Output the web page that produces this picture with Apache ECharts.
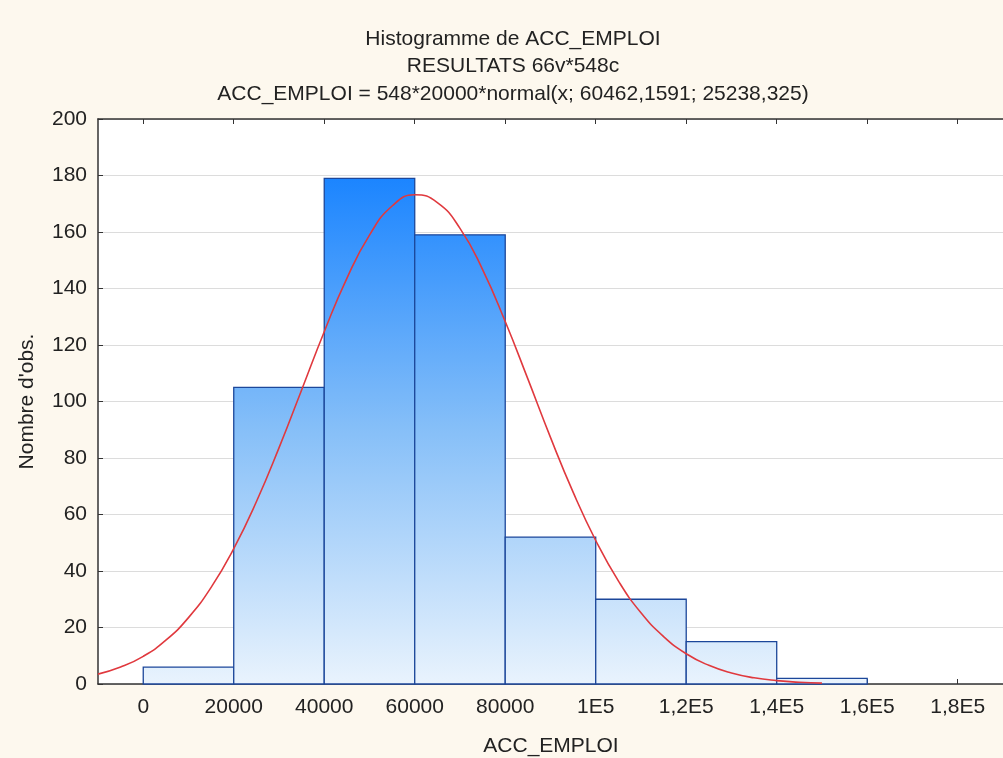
<!DOCTYPE html>
<html><head><meta charset="utf-8">
<script src="https://cdn.jsdelivr.net/npm/echarts@6/dist/echarts.min.js"></script>
<style>html,body{margin:0;padding:0;background:#fdf8ee;}#c{width:1003px;height:758px;}</style>
</head><body><div id="c"></div>
<script>
// Histogram bins: [start, end]
const binStarts = [0, 20000, 40000, 60000, 80000, 100000, 120000, 140000];
const binEnds   = [20000, 40000, 60000, 80000, 100000, 120000, 140000, 160000];
const binCounts = [6, 105, 179, 159, 52, 30, 15, 2];
// Fitted normal curve
const curveX = [-10000,-5000,0,5000,10000,15000,20000,25000,30000,35000,40000,45000,50000,55000,60000,65000,70000,75000,80000,85000,90000,95000,100000,105000,110000,115000,120000,125000,130000,135000,140000,145000,150000];
const curveY = [3.5,6.0,9.8,15.5,23.5,34.2,47.9,64.5,83.6,104.1,124.7,143.6,158.9,169.2,173.2,170.4,161.3,146.7,128.3,108.0,87.3,67.9,50.8,36.5,25.2,16.8,10.7,6.6,3.9,2.2,1.2,0.6,0.3];
const xTickValues = [0,20000,40000,60000,80000,100000,120000,140000,160000,180000];
const xTickLabels = ['0','20000','40000','60000','80000','1E5','1,2E5','1,4E5','1,6E5','1,8E5'];
const titleLines = ['Histogramme de ACC_EMPLOI','RESULTATS 66v*548c','ACC_EMPLOI = 548*20000*normal(x; 60462,1591; 25238,325)'];

const chart = echarts.init(document.getElementById('c'));
const font = 'Liberation Sans, Arial, sans-serif';
const lblMap = {};
xTickValues.forEach((v,i)=>lblMap[v]=xTickLabels[i]);
const grad = new echarts.graphic.LinearGradient(0, 175, 0, 684, [
  {offset:0, color:'#1a84ff'},
  {offset:0.5, color:'#86bff8'},
  {offset:1, color:'#e9f3fd'}
], true);
const axisLineStyle = {color:'#333', width:1.5};
chart.setOption({
  backgroundColor:'#fdf8ee',
  animation:false,
  graphic: titleLines.map((t,i)=>({
    type:'text', x:513, y:39+i*27.5,
    style:{text:t, textAlign:'center', textVerticalAlign:'middle', font:'21px '+font, fill:'#222'}
  })),
  grid:{left:98, top:119, width:914, height:565, outerBoundsMode:'none', containLabel:false, show:true, backgroundColor:'#fff', borderWidth:0},
  xAxis:[{
    type:'value', min:-10000, max:192000,
    axisLine:{show:true, onZero:false, lineStyle:axisLineStyle},
    axisTick:{show:true, inside:true, length:5, customValues:xTickValues, lineStyle:{color:'#333'}},
    axisLabel:{customValues:xTickValues, formatter:v=>lblMap[v]!==undefined?lblMap[v]:'', fontFamily:font, fontSize:21, color:'#222', margin:13},
    splitLine:{show:false},
    name:'ACC_EMPLOI', nameLocation:'middle', nameGap:52,
    nameTextStyle:{fontFamily:font, fontSize:21, color:'#222', padding:[0,8,0,0]}
  },{
    type:'value', min:-10000, max:192000, position:'top',
    axisLine:{show:true, onZero:false, lineStyle:axisLineStyle},
    axisTick:{show:true, inside:true, length:5, customValues:xTickValues, lineStyle:{color:'#333'}},
    axisLabel:{show:false}, splitLine:{show:false}
  }],
  yAxis:[{
    type:'value', min:0, max:200, interval:20,
    axisLine:{show:true, onZero:false, lineStyle:axisLineStyle},
    axisTick:{show:true, inside:true, length:5, lineStyle:{color:'#333'}},
    axisLabel:{fontFamily:font, fontSize:21, color:'#222', margin:11},
    splitLine:{show:true, lineStyle:{color:'#dcdcdc', width:1}},
    name:"Nombre d'obs.", nameLocation:'middle', nameGap:60,
    nameTextStyle:{fontFamily:font, fontSize:21, color:'#222'}
  },{
    type:'value', min:0, max:200, interval:20, position:'right',
    axisLine:{show:true, onZero:false, lineStyle:axisLineStyle},
    axisTick:{show:true, inside:true, length:5, lineStyle:{color:'#333'}},
    axisLabel:{show:false}, splitLine:{show:false}
  }],
  series:[{
    type:'custom',
    xAxisIndex:0, yAxisIndex:0,
    data: binStarts.map((s,i)=>[s, binEnds[i], binCounts[i]]),
    encode:{x:[0,1], y:2},
    renderItem:function(params, api){
      const p0 = api.coord([api.value(0), api.value(2)]);
      const p1 = api.coord([api.value(1), 0]);
      return {type:'rect', shape:{x:p0[0], y:p0[1], width:p1[0]-p0[0], height:p1[1]-p0[1]},
        style:{fill:grad, stroke:'#1c479a', lineWidth:1.3}};
    },
    z:2
  },{
    type:'line',
    xAxisIndex:0, yAxisIndex:0,
    data: curveX.map((x,i)=>[x, curveY[i]]),
    smooth:true, showSymbol:false,
    lineStyle:{color:'#e0393e', width:1.6},
    z:3
  }]
});
</script></body></html>
